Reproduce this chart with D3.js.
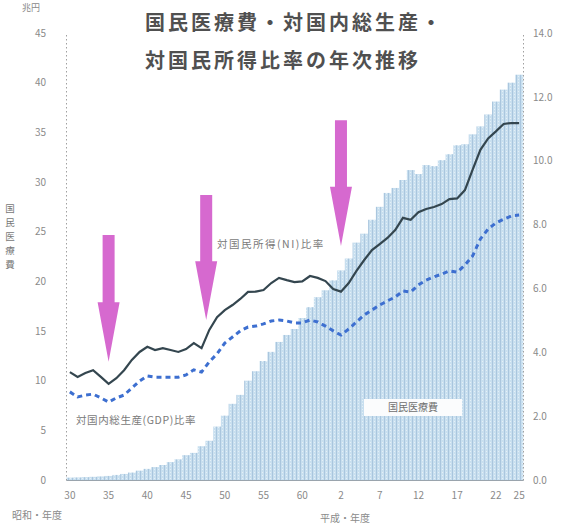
<!DOCTYPE html>
<html><head><meta charset="utf-8">
<script src="https://cdn.jsdelivr.net/npm/d3@7"></script>
<style>
body{margin:0;background:#fff;}
svg{display:block;font-family:"Noto Sans CJK JP","Noto Sans",sans-serif;}
</style></head><body>
<svg id="c" width="570" height="526"></svg>
<script>
const years = d3.range(1955, 2014);
// 国民医療費 (兆円)
const medicalCost = [0.24,0.26,0.29,0.32,0.36,0.41,0.51,0.61,0.75,0.94,
 1.12,1.30,1.51,1.80,2.08,2.50,2.73,3.40,3.95,5.38,
 6.48,7.67,8.57,10.0,10.95,11.98,12.9,13.9,14.6,15.2,
 16.3,17.4,18.4,19.1,20.1,21.1,22.3,23.9,24.8,26.2,
 27.5,28.9,29.4,30.2,31.2,30.8,31.7,31.6,32.2,32.8,
 33.7,33.8,34.8,35.6,36.8,38.1,39.3,40.0,40.8];
// 対国民所得比率 (%)
const niRatio = [3.38,3.23,3.35,3.44,3.23,3.01,3.19,3.44,3.76,4.01,
 4.17,4.07,4.13,4.07,4.01,4.10,4.29,4.13,4.70,5.10,
 5.32,5.48,5.67,5.89,5.90,5.95,6.17,6.33,6.26,6.20,
 6.22,6.39,6.33,6.23,5.98,5.90,6.17,6.55,6.89,7.20,
 7.39,7.58,7.83,8.21,8.15,8.39,8.49,8.55,8.64,8.80,
 8.82,9.08,9.72,10.34,10.70,10.92,11.15,11.18,11.18];
// 対国内総生産比率 (%)
const gdpRatio = [2.76,2.60,2.66,2.69,2.57,2.44,2.57,2.66,2.88,3.10,
 3.26,3.22,3.22,3.22,3.22,3.29,3.45,3.38,3.70,3.95,
 4.29,4.48,4.67,4.79,4.82,4.89,4.98,5.01,4.98,4.92,
 4.92,5.01,4.95,4.82,4.67,4.54,4.73,4.95,5.17,5.32,
 5.48,5.61,5.73,5.92,5.89,6.11,6.26,6.36,6.45,6.55,
 6.51,6.73,7.02,7.55,7.86,8.05,8.17,8.27,8.30];
const tickYears = [1955,1960,1965,1970,1975,1980,1985,1990,1995,2000,2005,2010,2013];
const tickLabels = ["30","35","40","45","50","55","60","2","7","12","17","22","25"];
const leftTicks = [0,5,10,15,20,25,30,35,40,45];
const rightTicks = [0,2,4,6,8,10,12,14];
// arrows: year, top %, tip %
const arrowYears = [1960, 1972.6, 1990];
const arrowTop = [7.67, 8.93, 11.27];
const arrowTip = [3.70, 5.01, 7.33];

const svg = d3.select("#c");
const L = 66, R = 523, T = 33, B = 480;
const x = d3.scaleBand().domain(years).range([L, R]).padding(0);
const xc = yr => L + (yr - 1955 + 0.5) * x.step();
const yL = d3.scaleLinear().domain([0, 45]).range([B, T]);
const yR = d3.scaleLinear().domain([0, 14]).range([B, T]);

// bars
const defs = svg.append("defs");
const pat = defs.append("pattern").attr("id","tex").attr("patternUnits","userSpaceOnUse")
  .attr("width",4).attr("height",3);
pat.append("rect").attr("width",4).attr("height",3).attr("fill","#c8dfef");
pat.append("rect").attr("x",0).attr("width",1).attr("height",3).attr("fill","#aac6de");
pat.append("rect").attr("x",2).attr("y",1).attr("width",1).attr("height",1).attr("fill","#e4eff7");

svg.append("g").selectAll("rect").data(years).join("rect")
  .attr("x", d => x(d)).attr("width", x.bandwidth() + 0.3)
  .attr("y", (d,i) => yL(medicalCost[i]))
  .attr("height", (d,i) => B - yL(medicalCost[i]))
  .attr("fill", "url(#tex)");

// axes
const axL = svg.append("g").attr("transform",`translate(${L},0)`)
  .call(d3.axisLeft(yL).tickValues(leftTicks).tickSize(0).tickPadding(20).tickFormat(d3.format("d")));
const axR = svg.append("g").attr("transform",`translate(${R},0)`)
  .call(d3.axisRight(yR).tickValues(rightTicks).tickSize(0).tickPadding(10).tickFormat(d3.format(".1f")));
const axB = svg.append("g").attr("transform",`translate(0,${B})`)
  .call(d3.axisBottom(x).tickValues(tickYears).tickSize(0).tickPadding(12).tickFormat((d,i)=>tickLabels[tickYears.indexOf(d)]));
[axL, axR, axB].forEach(a => {
  a.selectAll("text").attr("fill","#8a8a8a").style("font-size","10px").style("font-family","'Noto Sans CJK JP',sans-serif");
  a.select(".domain").attr("stroke","#a0a0a0").attr("stroke-width",1).attr("stroke-dasharray","1.5,2.5");
});
axB.select(".domain").attr("stroke-dasharray",null).attr("stroke","#9aa4ad");

// lines
const line = d3.line().x((d,i) => xc(years[i])).y(d => yR(d)).curve(d3.curveLinear);
svg.append("path").datum(gdpRatio).attr("d", line).attr("fill","none")
  .attr("stroke","#3d6fd0").attr("stroke-width",3).attr("stroke-dasharray","5,4");
svg.append("path").datum(niRatio).attr("d", line).attr("fill","none")
  .attr("stroke","#34464f").attr("stroke-width",2.2);

// arrows
arrowYears.forEach((yr,i) => {
  const cx = xc(yr), top = yR(arrowTop[i]), tip = yR(arrowTip[i]);
  const headStart = tip - (tip - top) * 0.47;
  const sw = 6, hw = 11;
  const pts = [[cx-sw,top],[cx+sw,top],[cx+sw,headStart],[cx+hw,headStart],[cx,tip],[cx-hw,headStart],[cx-sw,headStart]];
  svg.append("path").attr("d", d3.line()(pts) + "Z").attr("fill","#d35ccb").attr("opacity",0.92);
});

// labels
svg.append("text").attr("x",217).attr("y",248).text("対国民所得(NI)比率")
  .attr("fill","#7a7a7a").style("font-size","10.5px").style("letter-spacing","1.5px");
svg.append("text").attr("x",76).attr("y",424).text("対国内総生産(GDP)比率")
  .attr("fill","#7a7a7a").style("font-size","10.5px").style("letter-spacing","0.6px");
svg.append("rect").attr("x",364).attr("y",399).attr("width",98).attr("height",17).attr("fill","#fbfcfd");
svg.append("text").attr("x",413).attr("y",411).attr("text-anchor","middle").text("国民医療費")
  .attr("fill","#6f6f6f").style("font-size","10px");

// title
svg.append("text").attr("x",145).attr("y",30).text("国民医療費・対国内総生産・")
  .attr("fill","#505050").style("font-size","20px").style("font-weight","bold").style("letter-spacing","3px");
svg.append("text").attr("x",145).attr("y",68).text("対国民所得比率の年次推移")
  .attr("fill","#505050").style("font-size","20px").style("font-weight","bold").style("letter-spacing","3px");

// unit labels
svg.append("text").attr("x",22).attr("y",11).text("兆円").attr("fill","#8a8a8a").style("font-size","9px");
const vt = "国民医療費".split("");
vt.forEach((ch,i) => svg.append("text").attr("x",10).attr("y",212 + i*14).attr("text-anchor","middle")
  .text(ch).attr("fill","#777").style("font-size","9.5px"));
svg.append("text").attr("x",12).attr("y",519).text("昭和・年度").attr("fill","#8a8a8a").style("font-size","10px");
svg.append("text").attr("x",320).attr("y",522).text("平成・年度").attr("fill","#8a8a8a").style("font-size","10px");
</script>
</body></html>
